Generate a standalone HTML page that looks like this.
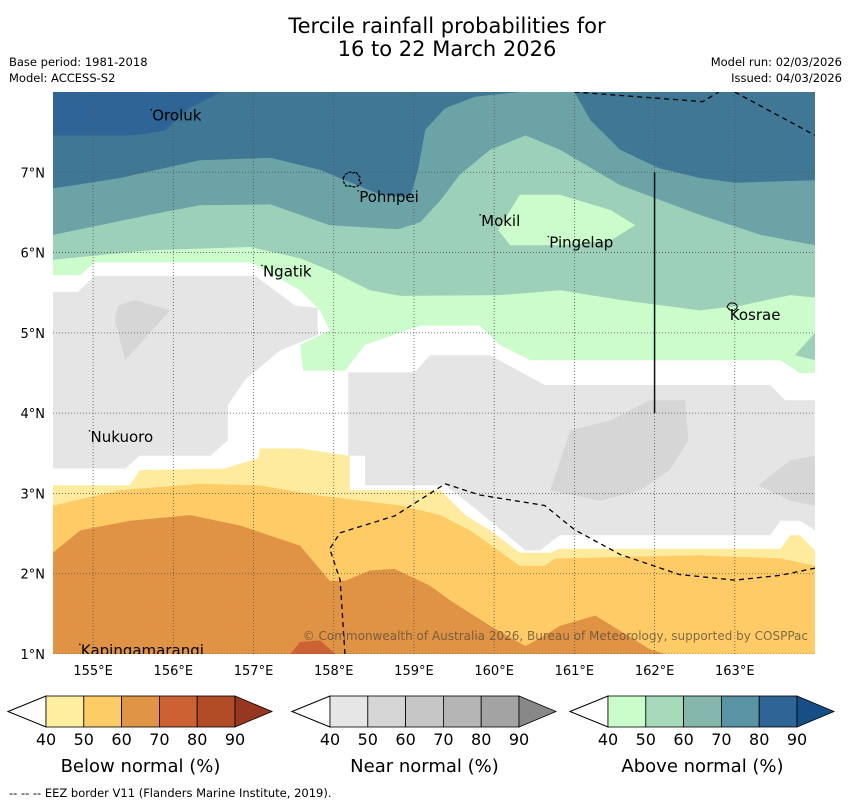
<!DOCTYPE html>
<html><head><meta charset="utf-8">
<style>
html,body{margin:0;padding:0;background:#fff;width:850px;height:804px;overflow:hidden;font-family:"Liberation Sans","DejaVu Sans",sans-serif;}
svg text{font-family:"DejaVu Sans","Liberation Sans",sans-serif;}
</style></head>
<body>
<svg id="chart" width="850" height="804" viewBox="0 0 850 804" xmlns="http://www.w3.org/2000/svg">
  <text x="447" y="33" font-size="21" text-anchor="middle" fill="#000">Tercile rainfall probabilities for</text>
  <text x="447" y="56" font-size="21" text-anchor="middle" fill="#000">16 to 22 March 2026</text>
  <text x="9" y="66" font-size="11.5">Base period: 1981-2018</text>
  <text x="9" y="82" font-size="11.5">Model: ACCESS-S2</text>
  <text x="842" y="66" font-size="11.5" text-anchor="end">Model run: 02/03/2026</text>
  <text x="842" y="82" font-size="11.5" text-anchor="end">Issued: 04/03/2026</text>
  <defs><clipPath id="mapclip"><rect x="53" y="92" width="762" height="562"/></clipPath></defs>
  <g id="map" clip-path="url(#mapclip)"></g>
  <g id="axes"></g>
  <g id="legend"></g>
  <text x="9" y="797" font-size="11.5">--  --  -- EEZ border V11 (Flanders Marine Institute, 2019).</text>
</svg>
<script>
// axis domain
const lonTicks = [155,156,157,158,159,160,161,162,163];
const latTicks = [1,2,3,4,5,6,7];
const lonLabels = ["155°E","156°E","157°E","158°E","159°E","160°E","161°E","162°E","163°E"];
const latLabels = ["1°N","2°N","3°N","4°N","5°N","6°N","7°N"];
// contour regions [lon, lat]
const above80 = [[154.5,8],[156.6,8],[156.2,7.8],[155.9,7.52],[155.5,7.46],[154.5,7.46]];
const above60 = [[154.5,6.80],[154.71,6.83],[155.34,6.93],[156.33,7.15],[157.21,7.18],[157.83,7.03],[158.58,6.72],[158.95,6.68],[159.05,7.03],[159.14,7.53],[159.39,7.80],[159.76,7.94],[160.32,8],[161.0,8],[161.2,7.65],[161.57,7.28],[162.06,7.05],[162.56,6.93],[163.0,6.87],[164,6.90],[164,1],[154.5,1]];
const above50 = [[154.5,6.22],[155.71,6.47],[156.33,6.59],[157.21,6.60],[157.95,6.34],[158.80,6.29],[159.08,6.38],[159.33,6.65],[159.57,6.97],[159.95,7.28],[160.39,7.46],[160.82,7.28],[161.57,6.84],[162.56,6.47],[163.32,6.22],[164,6.09],[164,1],[154.5,1]];
const above40 = [[154.5,5.91],[155.71,6.03],[156.96,6.07],[157.58,5.93],[157.95,5.78],[158.45,5.53],[158.83,5.46],[160.07,5.47],[160.82,5.53],[161.57,5.41],[162.56,5.28],[163.07,5.34],[163.69,5.47],[164,5.44],[164,1],[154.5,1]];
const above50b = [[164,5.0],[163.75,4.72],[164,4.66]];
const above40b = [[160.05,6.28],[160.32,6.72],[160.82,6.72],[161.45,6.53],[161.76,6.34],[161.45,6.15],[160.82,6.09],[160.2,6.09]];
const noSignal = [[154.5,5.72],[154.84,5.72],[155.02,5.88],[156.96,5.88],[157.58,5.53],[157.83,5.28],[157.95,5.03],[157.58,4.85],[157.62,4.53],[158.14,4.53],[158.39,4.85],[159.08,5.09],[159.82,5.09],[160.07,4.85],[160.45,4.66],[163.57,4.66],[163.81,4.50],[164,4.50],[164,1],[154.5,1]];
const near40a = [[154.5,5.51],[154.81,5.51],[155.02,5.71],[157.02,5.71],[157.52,5.34],[157.80,5.31],[157.80,4.97],[157.33,4.78],[156.89,4.41],[156.68,4.10],[156.68,3.66],[156.46,3.47],[155.58,3.47],[155.4,3.31],[154.5,3.31]];
const near50a = [[155.31,5.34],[155.52,5.41],[155.96,5.28],[155.40,4.66],[155.27,5.16]];
const near40b = [[158.18,4.51],[159.01,4.51],[159.2,4.72],[159.95,4.72],[160.63,4.35],[163.44,4.35],[163.63,4.16],[164,4.16],[164,2.54],[163.81,2.66],[163.57,2.66],[163.44,2.48],[161.32,2.48],[160.82,2.48],[160.57,2.29],[160.39,2.29],[159.95,2.66],[159.64,2.91],[159.39,3.10],[158.39,3.10],[158.39,3.47],[158.18,3.47]];
const near50b = [[160.70,3.04],[160.95,3.79],[161.45,3.91],[161.94,4.16],[162.38,4.16],[162.42,3.66],[162.19,3.29],[161.82,3.04],[161.32,2.91]];
const near50c = [[163.29,3.10],[163.69,3.41],[164,3.47],[164,2.85],[163.69,2.91]];
const below40 = [[154.5,3.10],[155.46,3.10],[155.58,3.29],[156.64,3.31],[157.06,3.44],[157.08,3.56],[157.58,3.56],[158.2,3.47],[158.2,3.04],[159.33,3.04],[159.64,2.73],[159.95,2.54],[160.32,2.26],[160.70,2.26],[160.82,2.31],[163.57,2.31],[163.69,2.48],[163.81,2.48],[164,2.29],[164,1],[154.5,1]];
const below50 = [[154.5,2.85],[155.34,3.04],[156.33,3.12],[157.08,3.10],[157.83,2.97],[158.83,2.85],[159.33,2.73],[159.70,2.54],[160.32,2.10],[160.63,2.10],[160.76,2.19],[162.56,2.23],[163.57,2.19],[164,2.10],[164,1],[154.5,1]];
const below60 = [[154.5,2.26],[154.84,2.54],[155.46,2.66],[156.21,2.73],[156.83,2.60],[157.58,2.35],[157.95,1.91],[158.14,1.91],[158.45,2.04],[158.76,2.06],[159.2,1.85],[159.45,1.67],[159.95,1.35],[160.39,1.10],[160.63,1.23],[160.82,1.35],[161.26,1.48],[161.57,1.29],[161.94,1.06],[162.13,1],[154.5,1]];
const below70 = [[157.46,1],[157.58,1.15],[157.83,1.17],[158.02,1]];
const layers = [
  ["above-80-90", above80, "#2f6496"],
  ["above-60-70", above60, "#6ca3a6"],
  ["above-50-60", above50, "#9dd0b9"],
  ["above-40-50", above40, "#ccfccb"],
  ["above-50-60-east", above50b, "#9dd0b9"],
  ["above-40-50-pingelap", above40b, "#ccfccb"],
  ["no-dominant", noSignal, "#ffffff"],
  ["near-40-50-west", near40a, "#e5e5e5"],
  ["near-50-60-west", near50a, "#d6d6d6"],
  ["near-40-50-east", near40b, "#e5e5e5"],
  ["near-50-60-east", near50b, "#d6d6d6"],
  ["near-50-60-edge", near50c, "#d6d6d6"],
  ["below-40-50", below40, "#ffeb9e"],
  ["below-50-60", below50, "#fecb66"],
  ["below-60-70", below60, "#e09345"],
  ["below-70-80", below70, "#cc6133"]
];
const places = [["Oroluk",155.75,7.78],["Pohnpei",158.33,6.77],["Ngatik",157.13,5.84],["Mokil",159.85,6.47],["Pingelap",160.7,6.2],["Kosrae",162.95,5.3],["Nukuoro",154.98,3.78],["Kapingamarangi",154.86,1.12]];

const X0=53,X1=815,Y0=92,Y1=654,LON0=154.5,LON1=164,LAT0=1,LAT1=8;
function xs(lon){return X0+(lon-LON0)/(LON1-LON0)*(X1-X0);}
function ys(lat){return Y1-(lat-LAT0)/(LAT1-LAT0)*(Y1-Y0);}
const NS="http://www.w3.org/2000/svg";
function mk(tag,attrs,parent){const e=document.createElementNS(NS,tag);for(const k in attrs)e.setAttribute(k,attrs[k]);parent.appendChild(e);return e;}
const map=document.getElementById('map'), axes=document.getElementById('axes'), legend=document.getElementById('legend');

const bg=mk('rect',{x:X0,y:Y0,width:X1-X0,height:Y1-Y0,fill:'#3f7794'},map);


layers.forEach(function(L){
  const p=mk('polygon',{points:L[1].map(function(q){return xs(q[0]).toFixed(1)+','+ys(q[1]).toFixed(1);}).join(' '),fill:L[2]},map);
  
  
});
lonTicks.forEach(function(t){
  const l=mk('line',{x1:xs(t),x2:xs(t),y1:Y0,y2:Y1,stroke:'#555','stroke-width':0.8,'stroke-dasharray':'1,2'},map);
  
  
});
latTicks.forEach(function(t){
  const l=mk('line',{x1:X0,x2:X1,y1:ys(t),y2:ys(t),stroke:'#555','stroke-width':0.8,'stroke-dasharray':'1,2'},map);
  
  
});
const eez=[
  [[161.0,8],[162.6,7.88],[162.8,8]],
  [[163.0,8],[164,7.46]],
  [[158.14,1],[158.08,1.92],[157.95,2.31],[158.08,2.51],[158.76,2.72],[159.39,3.12],[159.82,2.98],[160.63,2.85],[161.0,2.55],[161.57,2.24],[162.31,1.99],[163.0,1.92],[163.57,1.98],[164,2.07]]
];
eez.forEach(function(seg){
  const p=mk('polyline',{points:seg.map(function(q){return xs(q[0])+','+ys(q[1]);}).join(' '),fill:'none',stroke:'#000','stroke-width':1.3,'stroke-dasharray':'5,4'},map);
  
  
});
const vline=mk('line',{x1:xs(162),x2:xs(162),y1:ys(7),y2:ys(4),stroke:'#111','stroke-width':1.5},map);


const poh=mk('path',{d:'M343,178 l3,-4 l4,-2 l3,1 l3,-1 l2,3 l2,2 l-1,3 l2,3 l-3,3 l-4,1 l-4,-1 l-4,0 l-2,-3z',fill:'none',stroke:'#000','stroke-width':1.2,'stroke-dasharray':'3,1'},map);


const kos=mk('path',{d:'M727,307 q2,-5 6,-4 q5,1 4,5 q-3,4 -7,2z',fill:'none',stroke:'#000','stroke-width':1},map);


places.forEach(function(p){
  const t=mk('text',{x:xs(p[1])-1,y:ys(p[2])+11,'font-size':15,fill:'#000'},map);
  t.textContent=p[0];
  
  
  const d=mk('circle',{cx:xs(p[1])-2,cy:ys(p[2]),r:0.8,fill:'#000'},map);
  
  
});
const cr=mk('text',{x:808,y:640,'font-size':12,fill:'#5a4a3a','fill-opacity':0.75,'text-anchor':'end'},map);
cr.textContent='© Commonwealth of Australia 2026, Bureau of Meteorology, supported by COSPPac';


lonTicks.forEach(function(t,i){
  const e=mk('text',{x:xs(t),y:675,'font-size':13,'text-anchor':'middle'},axes);
  e.textContent=lonLabels[i];
  
  
});
latTicks.forEach(function(t,i){
  const e=mk('text',{x:45,y:ys(t)+5,'font-size':13,'text-anchor':'end'},axes);
  e.textContent=latLabels[i];
  
  
});
const legTicks=["40","50","60","70","80","90"];
const belowCols=["#ffeda0","#fecc66","#e09446","#cc6133","#b14c27"], belowEnd="#973720";
const nearCols=["#e6e6e6","#d5d5d5","#c6c6c6","#b5b5b5","#a3a3a3"], nearEnd="#888888";
const aboveCols=["#cbfdcb","#a6dabb","#85b8ab","#5a93a3","#2e6596"], aboveEnd="#164f86";
const legDefs=[["below-normal",8,belowCols,belowEnd,"Below normal (%)"],["near-normal",292,nearCols,nearEnd,"Near normal (%)"],["above-normal",570,aboveCols,aboveEnd,"Above normal (%)"]];
legDefs.forEach(function(L){
  const g=mk('g',{},legend);
  
  
  const x0=L[1], bx=x0+38, cw=37.8, top=696, bot=727, mid=711.5;
  mk('polygon',{points:x0+','+mid+' '+bx+','+top+' '+bx+','+bot,fill:'#fff',stroke:'#000','stroke-width':1},g);
  L[2].forEach(function(c,i){
    mk('rect',{x:bx+i*cw,y:top,width:cw,height:bot-top,fill:c,stroke:'#000','stroke-width':0.8},g);
  });
  const ex=bx+5*cw;
  mk('polygon',{points:ex+','+top+' '+(ex+37)+','+mid+' '+ex+','+bot,fill:L[3],stroke:'#000','stroke-width':0.8},g);
  legTicks.forEach(function(t,i){
    const e=mk('text',{x:bx+i*cw,y:745,'font-size':16,'text-anchor':'middle'},g);
    e.textContent=t;
    
    
  });
  const ttl=mk('text',{x:bx+2.5*cw,y:772,'font-size':18,'text-anchor':'middle'},g);
  ttl.textContent=L[4];
  
  
});
</script>
</body></html>
